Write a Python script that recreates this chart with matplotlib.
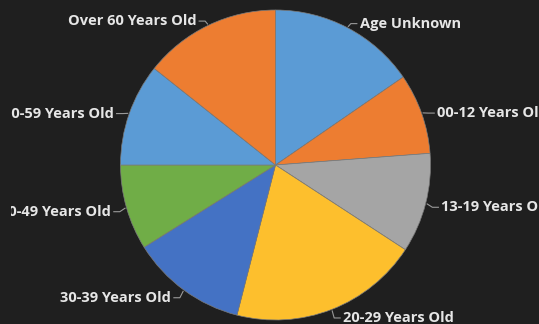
import numpy as np
import matplotlib.pyplot as plt

# age breakdown, share of total (percent)
labels = ["Age Unknown", "00-12 Years Old", "13-19 Years Old", "20-29 Years Old",
          "30-39 Years Old", "40-49 Years Old", "50-59 Years Old", "Over 60 Years Old"]
values = [15.4, 8.4, 10.4, 19.8, 12.1, 8.9, 10.7, 14.3]
colors = ["#5B9BD5", "#ED7D31", "#A5A5A5", "#FDBF2D",
          "#4472C4", "#70AD47", "#5B9BD5", "#ED7D31"]

bg = "#1f1f1f"
W, H = 539, 324
left = 11

fig = plt.figure(figsize=(W / 100, H / 100), dpi=100, facecolor=bg)
ax = fig.add_axes([left / W, 0, (W - left) / W, 1])
ax.set_facecolor(bg)

cx, cy, r = 275.5, 159.0, 155.0
wedges, _ = ax.pie(values, colors=colors, startangle=90, counterclock=False,
                   center=(cx, cy), radius=r,
                   wedgeprops=dict(edgecolor="#7a7a7a", linewidth=0.5))
ax.set_xlim(left, W)
ax.set_ylim(0, H)
ax.set_aspect("auto")
ax.axis("off")

# labels sit just outside each slice with a short leader line
for w, lab in zip(wedges, labels):
    a = np.deg2rad((w.theta1 + w.theta2) / 2)
    ca, sa = np.cos(a), np.sin(a)
    side = 1 if ca >= 0 else -1
    x0, y0 = cx + r * 1.01 * ca, cy + r * 1.01 * sa
    x1, y1 = cx + r * 1.045 * ca, cy + r * 1.045 * sa - 2
    x2 = x1 + side * 6
    ax.plot([x0, x1, x2], [y0, y1, y1], color="#9a9a9a", lw=0.8, clip_on=True)
    ax.text(x2 + side * 3, y1, lab, ha="left" if side > 0 else "right", va="center",
            color="#e6e6e6", fontsize=10.5, family="Open Sans", weight="bold",
            clip_on=True)

fig.savefig("out.png", dpi=100, facecolor=bg)
